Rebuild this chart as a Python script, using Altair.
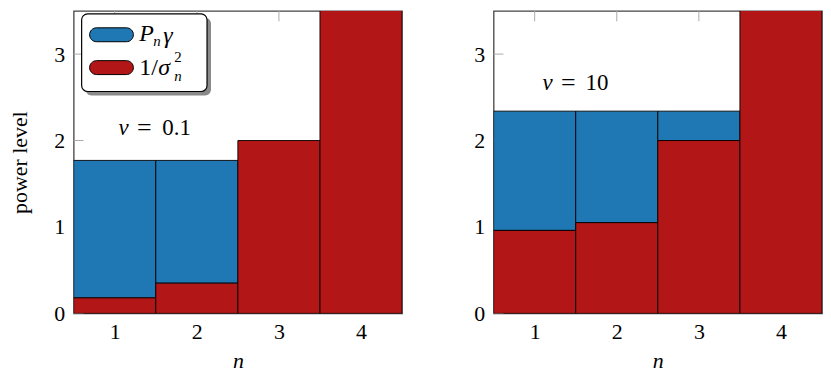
import altair as alt
import pandas as pd

# ---- data ----
n_vals = [1, 2, 3, 4]
inv_noise_low = [0.18, 0.35, 2.0, 3.6]    # 1/sigma_n^2, nu = 0.1
level_low = 1.77                           # water level, nu = 0.1
inv_noise_high = [0.96, 1.05, 2.0, 3.6]   # 1/sigma_n^2, nu = 10
level_high = 2.34                          # water level, nu = 10
y_ticks = [0, 1, 2, 3]
x_ticks = [1, 2, 3, 4]

BLUE = "#1f77b4"
RED = "#b31616"
FONT = "Liberation Serif"
FS = 22
H = 304
YMAX = 3.5


def panel(inv, level, nu_value, nu_xs, nu_y, width, first):
    df = pd.DataFrame({"n": n_vals, "red": inv})
    df["lo"] = df["n"] - 0.5
    df["hi"] = df["n"] + 0.5
    df["level"] = level
    xs = alt.Scale(domain=[0.5, 4.5], nice=False, zero=False)
    ys = alt.Scale(domain=[0, YMAX], nice=False)

    ticks_top = pd.DataFrame({"t": x_ticks, "y1": YMAX, "y2": YMAX - 0.12})
    ticks_left = pd.DataFrame({"t": y_ticks, "x1": 0.5, "x2": 0.62})

    top_rules = alt.Chart(ticks_top).mark_rule(color="#aaaaaa", strokeWidth=1).encode(
        x=alt.X("t:Q", scale=xs,
                axis=alt.Axis(values=x_ticks, format="d", ticks=False, domain=False, grid=False,
                              labelPadding=8, title="n", titleFontStyle="italic",
                              titlePadding=8)),
        y=alt.Y("y1:Q", scale=ys,
                axis=alt.Axis(values=y_ticks, format="d", ticks=False, domain=False, grid=False,
                              labelPadding=9,
                              title="power level" if first else "",
                              titlePadding=22)),
        y2="y2:Q",
    )
    left_rules = alt.Chart(ticks_left).mark_rule(color="#aaaaaa", strokeWidth=1).encode(
        x=alt.X("x1:Q", scale=xs), x2="x2:Q", y=alt.Y("t:Q", scale=ys)
    )

    blue = alt.Chart(df).transform_filter("datum.red < datum.level").mark_rect(
        fill=BLUE, stroke="black", strokeWidth=0.9, clip=True
    ).encode(
        x=alt.X("lo:Q", scale=xs), x2="hi:Q",
        y=alt.Y("red:Q", scale=ys), y2="level:Q",
    )
    red = alt.Chart(df).mark_rect(
        fill=RED, stroke="black", strokeWidth=0.9, clip=True
    ).encode(
        x=alt.X("lo:Q", scale=xs), x2="hi:Q",
        y=alt.Y("red:Q", scale=ys), y2=alt.datum(0),
    )

    ann = pd.DataFrame({"xn": [nu_xs[0]], "xe": [nu_xs[1]], "xv": [nu_xs[2]], "y": [nu_y]})
    nu_sym = alt.Chart(ann).mark_text(
        text="ν", fontSize=FS + 1, fontStyle="italic", align="right", baseline="middle"
    ).encode(x=alt.X("xn:Q", scale=xs), y=alt.Y("y:Q", scale=ys))
    nu_eq = alt.Chart(ann).mark_text(
        text="=", fontSize=FS + 4, align="center", baseline="middle"
    ).encode(x=alt.X("xe:Q", scale=xs), y=alt.Y("y:Q", scale=ys))
    nu_val = alt.Chart(ann).mark_text(
        text=nu_value, fontSize=FS + 1, align="left", baseline="middle"
    ).encode(x=alt.X("xv:Q", scale=xs), y=alt.Y("y:Q", scale=ys))

    layers = [top_rules, left_rules, blue, red, nu_sym, nu_eq, nu_val]

    if first:
        one = pd.DataFrame({"k": [0]})
        lb = alt.Chart(one)
        shadow = lb.mark_rect(fill="#8a8a8a", cornerRadius=6).encode(
            x=alt.value(12), x2=alt.value(138), y=alt.value(7), y2=alt.value(85))
        box = lb.mark_rect(fill="white", stroke="black", strokeWidth=1.2, cornerRadius=6).encode(
            x=alt.value(8), x2=alt.value(134), y=alt.value(3), y2=alt.value(81))
        pill_b = lb.mark_rect(fill=BLUE, stroke="black", strokeWidth=1, cornerRadius=7).encode(
            x=alt.value(16), x2=alt.value(60), y=alt.value(17), y2=alt.value(31))
        pill_r = lb.mark_rect(fill=RED, stroke="black", strokeWidth=1, cornerRadius=7).encode(
            x=alt.value(16), x2=alt.value(60), y=alt.value(50), y2=alt.value(64))

        def txt(s, x, y, size=FS, italic=False):
            kw = dict(text=s, fontSize=size, align="left", baseline="middle")
            if italic:
                kw["fontStyle"] = "italic"
            return lb.mark_text(**kw).encode(x=alt.value(x), y=alt.value(y))

        legend = [shadow, box, pill_b, pill_r,
                  txt("P", 66, 23, size=FS + 2, italic=True),
                  txt("n", 80, 30, size=15, italic=True),
                  txt("γ", 90, 25, size=FS + 2, italic=True),
                  txt("1/", 66, 57, size=FS + 2),
                  txt("σ", 85, 57, size=FS + 2, italic=True),
                  txt("2", 101, 46, size=15),
                  txt("n", 101, 65, size=15, italic=True)]
        layers += legend

    return alt.layer(*layers).properties(width=width, height=H)


left = panel(inv_noise_low, level_low, "0.1", [1.17, 1.36, 1.58], 2.14, 330, True)
right = panel(inv_noise_high, level_high, "10", [1.22, 1.41, 1.62], 2.66, 330, False)

chart = alt.hconcat(left, right, spacing=70).properties(
    padding={"left": 0, "top": 0, "right": 0, "bottom": 0}
).configure(background="white", font=FONT).configure_view(
    stroke="#444444", strokeWidth=1.3
).configure_axis(
    labelFont=FONT, labelFontSize=FS, labelColor="black",
    titleFont=FONT, titleFontSize=FS, titleFontWeight="normal", titleColor="black"
).configure_text(font=FONT)

chart.save("out.html", embed_options={"renderer": "svg", "actions": False})
